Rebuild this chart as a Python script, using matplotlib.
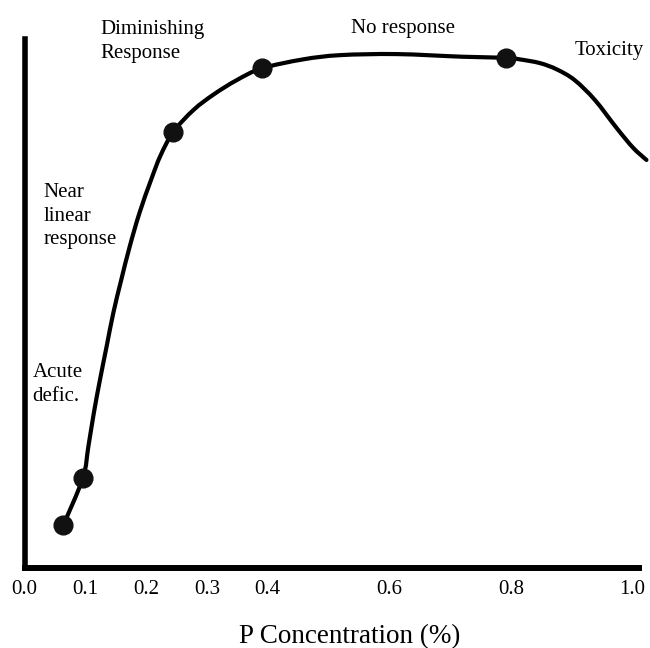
import matplotlib
matplotlib.use('Agg')
import matplotlib.pyplot as plt
from matplotlib.path import Path
from matplotlib.patches import PathPatch

# traced curve (P concentration %, relative response)
conc = [0.064, 0.096, 0.105, 0.114, 0.124, 0.135, 0.146, 0.159, 0.173, 0.189,
        0.208, 0.224, 0.245, 0.278, 0.311, 0.349, 0.390, 0.458, 0.519, 0.612,
        0.721, 0.792, 0.815, 0.848, 0.876, 0.905, 0.938, 0.974, 1.001, 1.023]
resp = [8.1, 16.9, 22.8, 29.1, 35.3, 41.6, 47.9, 54.1, 60.4, 66.7,
        72.9, 77.6, 82.0, 86.1, 89.0, 91.7, 93.9, 95.6, 96.4, 96.6,
        96.1, 95.9, 95.6, 94.9, 93.7, 91.7, 88.0, 82.7, 79.0, 76.7]
dot_idx = [0, 1, 12, 16, 21]

xticks = [0.0, 0.1, 0.2, 0.3, 0.4, 0.6, 0.8, 1.0]
xticklabels = ['0.0', '0.1', '0.2', '0.3', '0.4', '0.6', '0.8', '1.0']

# (text, x, y of last baseline, ha)
notes = [
    ('Diminishing\nResponse', 0.124, 95.9, 'left'),
    ('No response', 0.623, 100.6, 'center'),
    ('Toxicity', 0.905, 96.4, 'left'),
    ('Near\nlinear\nresponse', 0.031, 60.9, 'left'),
    ('Acute\ndefic.', 0.013, 31.4, 'left'),
]

plt.rcParams['font.family'] = ['Liberation Serif', 'DejaVu Serif']


def smooth_path(xs, ys):
    # catmull-rom through the traced points, drawn as cubic beziers
    pts = list(zip(xs, ys))
    verts = [pts[0]]
    codes = [Path.MOVETO]
    n = len(pts)
    for i in range(n - 1):
        p0 = pts[max(i - 1, 0)]
        p1 = pts[i]
        p2 = pts[i + 1]
        p3 = pts[min(i + 2, n - 1)]
        c1 = (p1[0] + (p2[0] - p0[0]) / 6, p1[1] + (p2[1] - p0[1]) / 6)
        c2 = (p2[0] - (p3[0] - p1[0]) / 6, p2[1] - (p3[1] - p1[1]) / 6)
        verts += [c1, c2, p2]
        codes += [Path.CURVE4] * 3
    return Path(verts, codes)


fig = plt.figure(figsize=(6.5, 6.48), dpi=100, facecolor='white')
ax = fig.add_axes([24.5 / 650, 80 / 648, 626.2 / 650, 532 / 648])
ax.set_xlim(0, 1.03)
ax.set_ylim(0, 100)

ax.add_patch(PathPatch(smooth_path(conc, resp), fill=False, edgecolor='black',
                       lw=3.0, capstyle='round', joinstyle='round',
                       clip_on=False, zorder=3))
ax.plot([conc[i] for i in dot_idx], [resp[i] for i in dot_idx], 'o',
        color='#111111', ms=13.5, clip_on=False, zorder=4)

for txt, x, y, ha in notes:
    ax.text(x, y, txt, ha=ha, va='baseline', fontsize=15, linespacing=1.32)

for s in ['top', 'right']:
    ax.spines[s].set_visible(False)
ax.spines['left'].set_linewidth(4.0)
ax.spines['bottom'].set_linewidth(4.3)
ax.spines['left'].set_capstyle('projecting')
ax.spines['bottom'].set_capstyle('projecting')
ax.spines['left'].set_bounds(0, 99.5)
ax.spines['bottom'].set_bounds(0, 1.01)

ax.set_yticks([])
ax.set_xticks(xticks)
ax.set_xticklabels(xticklabels)
ax.tick_params(axis='x', length=0, pad=8.6, labelsize=15)

fig.text(350 / 650, 5 / 648, 'P Concentration (%)', ha='center', va='baseline',
         fontsize=19.5)

fig.savefig('out.png', dpi=100, facecolor='white')
